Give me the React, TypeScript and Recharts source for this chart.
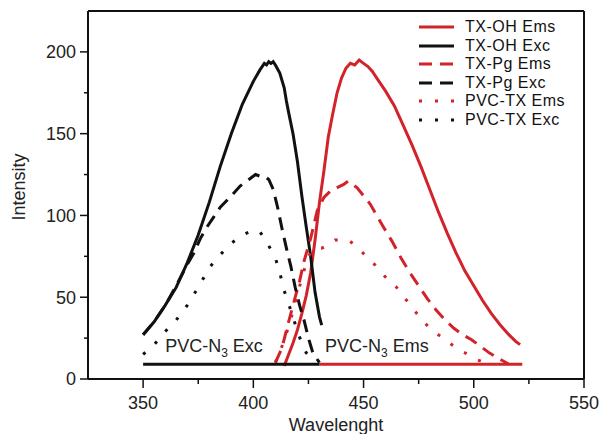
import React from 'react';
import { LineChart, Line, XAxis, YAxis, Legend, ReferenceDot, ReferenceLine } from 'recharts';

const RED = '#d2232a';
const BLACK = '#111111';
const FONT = 'Arial, "Liberation Sans", Helvetica, sans-serif';

// [wavelength nm, intensity]
const txOhExc: [number, number][] = [
  [350, 27], [355, 35], [360, 45], [365, 56], [370, 71], [375, 88], [380, 108], [385, 130],
  [390, 150], [395, 168], [400, 182], [403, 189], [405, 193], [406, 192], [407, 194],
  [408, 193], [409, 194], [410, 192], [412, 187], [414, 178], [415, 170], [416, 163],
  [418, 150], [420, 133], [422, 112], [424, 93], [426, 75], [428, 53], [430, 38], [431, 33],
];
const txPgExc: [number, number][] = [
  [350, 27], [355, 35], [360, 45], [365, 57], [370, 70], [373, 77], [376, 86], [379, 93],
  [382, 99], [385, 105], [390, 112], [394, 118], [398, 122], [401, 125], [403, 124],
  [405, 124], [407, 122], [409, 116], [411, 105], [413, 92], [415, 80], [417, 69],
  [419, 56], [421, 45], [423, 36], [425, 25], [427, 16], [430, 10],
];
const pvcTxExc: [number, number][] = [
  [350, 15], [355, 21], [360, 29], [365, 36], [370, 45], [375, 56], [380, 68], [385, 76],
  [390, 83], [395, 88], [400, 91], [403, 90], [406, 84], [410, 74], [412, 65], [414, 54],
  [416, 46], [418, 38], [420, 29], [422, 22], [424, 16], [427, 12],
];
const txOhEms: [number, number][] = [
  [414, 8], [416, 15], [418, 22], [420, 30], [422, 40], [424, 51], [426, 65], [428, 85],
  [430, 108], [432, 127], [434, 148], [436, 162], [438, 175], [440, 184], [442, 190],
  [444, 193], [446, 192], [448, 195], [450, 193], [452, 191], [454, 188], [456, 184],
  [460, 176], [464, 167], [468, 155], [472, 143], [476, 130], [480, 116], [484, 102],
  [488, 89], [492, 77], [496, 66], [500, 57], [504, 48], [508, 40], [512, 33], [516, 27],
  [519, 23], [521, 21],
];
const txPgEms: [number, number][] = [
  [410, 10], [413, 19], [416, 35], [419, 50], [421, 60], [423, 72], [426, 86], [429, 103],
  [432, 111], [435, 115], [438, 117], [441, 119], [443, 121], [445, 119], [447, 117],
  [450, 112], [453, 107], [456, 100], [459, 93], [463, 84], [467, 74], [471, 65],
  [475, 57], [479, 49], [483, 42], [487, 36], [491, 31], [495, 27], [499, 24], [503, 20],
  [507, 16], [512, 12], [516, 9],
];
const pvcTxEms: [number, number][] = [
  [410, 10], [413, 20], [416, 32], [419, 46], [422, 62], [425, 75], [428, 80], [431, 80],
  [434, 82], [437, 85], [440, 85], [443, 85], [446, 82], [449, 78], [452, 74], [455, 70],
  [458, 65], [461, 61], [465, 56], [469, 49], [473, 42], [476, 37], [480, 31], [484, 27],
  [488, 23], [492, 19], [496, 16], [501, 12], [505, 10],
];
const pvcN3Exc: [number, number][] = [[350, 9], [430, 9]];
const pvcN3Ems: [number, number][] = [[430, 9], [522, 9]];

const X_DOMAIN = [325, 550];
const Y_DOMAIN = [0, 225];
const xTicks = [350, 375, 400, 425, 450, 475, 500, 525, 550];
const xMajorTicks = [350, 400, 450, 500, 550];
const yTicks = [0, 25, 50, 75, 100, 125, 150, 175, 200];
const yMajorTicks = [0, 50, 100, 150, 200];

const DASHED = '13 8';
const DOTTED = '3 13';

const toPoints = (pairs: [number, number][]) => pairs.map(([x, y]) => ({ x, y }));

const series = [
  { name: 'TX-OH Ems', data: txOhEms, color: RED, dash: undefined },
  { name: 'TX-OH Exc', data: txOhExc, color: BLACK, dash: undefined },
  { name: 'TX-Pg Ems', data: txPgEms, color: RED, dash: DASHED },
  { name: 'TX-Pg Exc', data: txPgExc, color: BLACK, dash: DASHED },
  { name: 'PVC-TX Ems', data: pvcTxEms, color: RED, dash: DOTTED },
  { name: 'PVC-TX Exc', data: pvcTxExc, color: BLACK, dash: DOTTED },
  { name: 'PVC-N3 Ems', data: pvcN3Ems, color: RED, dash: undefined },
  { name: 'PVC-N3 Exc', data: pvcN3Exc, color: BLACK, dash: undefined },
];
const legendNames = ['TX-OH Ems', 'TX-OH Exc', 'TX-Pg Ems', 'TX-Pg Exc', 'PVC-TX Ems', 'PVC-TX Exc'];

const annotations = [
  { x: 360, y: 16.5, text: 'Exc' },
  { x: 432.5, y: 16.5, text: 'Ems' },
];

const X_TICK_SIZE = 9;
const X_TICK_MARGIN = 8;
const Y_TICK_SIZE = 8;
const Y_TICK_MARGIN = 4;

function XTick({ x, y, payload }: any) {
  const major = xMajorTicks.includes(payload.value);
  const axisY = y - X_TICK_SIZE - X_TICK_MARGIN;
  return (
    <g>
      <line x1={x} x2={x} y1={axisY} y2={axisY + (major ? 9 : 5)} stroke="#111" strokeWidth={1.5} />
      {major && (
        <text x={x} y={y} dy="0.71em" textAnchor="middle" fontSize={18} fill="#222" fontFamily={FONT}>
          {payload.value}
        </text>
      )}
    </g>
  );
}

function YTick({ x, y, payload }: any) {
  const major = yMajorTicks.includes(payload.value);
  const axisX = x + Y_TICK_SIZE + Y_TICK_MARGIN;
  return (
    <g>
      <line x1={axisX - (major ? 8 : 4)} x2={axisX} y1={y} y2={y} stroke="#111" strokeWidth={1.5} />
      {major && (
        <text x={x} y={y} dy="0.36em" textAnchor="end" fontSize={18} fill="#222" fontFamily={FONT}>
          {payload.value}
        </text>
      )}
    </g>
  );
}

const xLabel = ({ viewBox }: any) => (
  <text x={viewBox.x + viewBox.width / 2} y={viewBox.y + 52} textAnchor="middle" fontSize={18} fill="#222" fontFamily={FONT}>
    Wavelenght
  </text>
);

const yLabel = ({ viewBox }: any) => {
  const cx = viewBox.x + 19;
  const cy = viewBox.y + viewBox.height / 2 - 8;
  return (
    <text x={cx} y={cy} transform={`rotate(-90 ${cx} ${cy})`} textAnchor="middle" dominantBaseline="central" fontSize={18} fill="#222" fontFamily={FONT}>
      Intensity
    </text>
  );
};

const n3Label = (rest: string) => ({ viewBox }: any) => (
  <text x={viewBox.x} y={viewBox.y} fontSize={18} fill="#222" fontFamily={FONT}>
    PVC-N<tspan fontSize={12} dy={5}>3</tspan>
    <tspan dy={-5}>{' ' + rest}</tspan>
  </text>
);

function LegendBox() {
  return (
    <div style={{ fontFamily: FONT, fontSize: 16, letterSpacing: 0.5, color: '#111' }}>
      {legendNames.map((name) => {
        const s = series.find((d) => d.name === name)!;
        return (
          <div key={name} style={{ display: 'flex', alignItems: 'center', height: 18.5 }}>
            <svg width={36} height={18} style={{ display: 'block' }}>
              <line x1={1} x2={36} y1={9} y2={9} stroke={s.color} strokeWidth={3} strokeDasharray={s.dash} />
            </svg>
            <span style={{ marginLeft: 11, lineHeight: '18px' }}>{name}</span>
          </div>
        );
      })}
    </div>
  );
}

export default function App() {
  return (
    <div style={{ position: 'absolute', left: 0, top: 0, width: 601, height: 434, background: '#fff', fontFamily: FONT }}>
      <LineChart width={601} height={434} margin={{ top: 11, right: 17, bottom: 0, left: 0 }}>
        <XAxis
          dataKey="x"
          type="number"
          domain={X_DOMAIN}
          ticks={xTicks}
          allowDataOverflow
          height={55}
          tickSize={X_TICK_SIZE}
          tickMargin={X_TICK_MARGIN}
          tickLine={false}
          tick={<XTick />}
          axisLine={{ stroke: '#111', strokeWidth: 2 }}
          label={xLabel}
        />
        <YAxis
          type="number"
          domain={Y_DOMAIN}
          ticks={yTicks}
          allowDataOverflow
          width={88}
          tickSize={Y_TICK_SIZE}
          tickMargin={Y_TICK_MARGIN}
          tickLine={false}
          tick={<YTick />}
          axisLine={{ stroke: '#111', strokeWidth: 2 }}
          label={yLabel}
        />
        {/* top and right edges of the frame */}
        <ReferenceLine y={Y_DOMAIN[1]} stroke="#111" strokeWidth={2} />
        <ReferenceLine x={X_DOMAIN[1]} stroke="#111" strokeWidth={2} />
        <Legend
          layout="vertical"
          align="center"
          verticalAlign="middle"
          content={() => <LegendBox />}
          wrapperStyle={{ left: 418, top: 18, width: 170, height: 112 }}
        />
        {series.map((s) => (
          <Line
            key={s.name}
            data={toPoints(s.data)}
            dataKey="y"
            name={s.name}
            type="linear"
            stroke={s.color}
            strokeWidth={3}
            strokeDasharray={s.dash}
            dot={false}
            activeDot={false}
            isAnimationActive={false}
          />
        ))}
        {annotations.map((a) => (
          <ReferenceDot key={a.text} x={a.x} y={a.y} r={0} fill="none" stroke="none" label={n3Label(a.text)} />
        ))}
      </LineChart>
    </div>
  );
}
